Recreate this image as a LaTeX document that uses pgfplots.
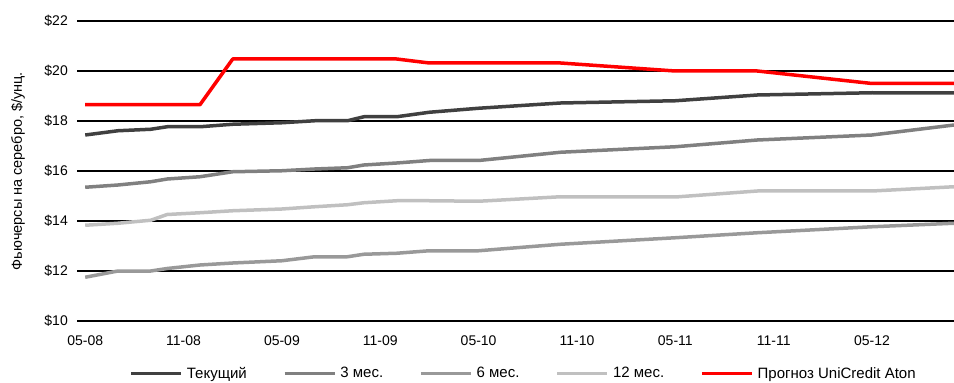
\documentclass[border=0pt]{standalone}
\usepackage{fontspec}
\setmainfont{Liberation Sans}
\usepackage{pgfplots}
\pgfplotsset{compat=1.18}

\definecolor{cur}{HTML}{404040}
\definecolor{m3}{HTML}{808080}
\definecolor{m6}{HTML}{999999}
\definecolor{m12}{HTML}{C0C0C0}
\definecolor{fc}{HTML}{FF0000}

% x = months since May 2008
\begin{document}
\begin{tikzpicture}[font=\fontsize{14bp}{17bp}\selectfont]
\path[use as bounding box] (-77bp,-62bp) rectangle (877bp,321bp);
\begin{axis}[
  at={(0,0)}, anchor=south west,
  scale only axis, width=877bp, height=300bp,
  xmin=-0.5, xmax=53, ymin=10, ymax=22,
  axis line style={draw=none},
  major tick length=0pt,
  xtick={0,6,12,18,24,30,36,42,48},
  xticklabels={05-08,11-08,05-09,11-09,05-10,11-10,05-11,11-11,05-12},
  ytick={10,12,14,16,18,20,22},
  yticklabels={\$10,\$12,\$14,\$16,\$18,\$20,\$22},
  ymajorgrids,
  grid style={black, line width=1.3bp},
  tick label style={font=\fontsize{14bp}{17bp}\selectfont},
  yticklabel style={anchor=east, inner sep=0pt, xshift=-9bp},
  xticklabel style={anchor=north, inner sep=0pt, yshift=-15bp},
  ylabel={Фьючерсы на серебро, \$/унц.},
  ylabel style={at={(axis description cs:-0.0673,0.5)}, anchor=center, font=\fontsize{14.5bp}{17bp}\selectfont},
  legend columns=5,
  legend image code/.code={\draw[#1] (0bp,0bp) -- (50bp,0bp);},
  legend style={at={(axis description cs:0.508,-0.175)}, anchor=center,
    draw=none, fill=none, inner sep=0pt,
    font=\fontsize{15bp}{18bp}\selectfont,
    nodes={inner xsep=0pt, inner ysep=0bp},
    /tikz/every odd column/.append style={column sep=4bp},
    /tikz/every even column/.append style={column sep=36bp}},
  every axis plot/.append style={line width=3.5bp, line join=round},
]
\addplot[cur] coordinates {
 (0,17.44) (2,17.61) (4,17.67) (5,17.77) (7,17.77) (9,17.87) (12,17.93)
 (14,18.01) (16,18.01) (17,18.17) (19,18.17) (21,18.35) (24,18.51)
 (29,18.72) (36,18.81) (41,19.04) (48,19.13) (53,19.12)};
\addlegendentry{Текущий}
\addplot[m3] coordinates {
 (0,15.35) (2,15.44) (4,15.57) (5,15.68) (7,15.77) (9,15.97) (12,16.01)
 (14,16.08) (16,16.13) (17,16.24) (19,16.32) (21,16.42) (24,16.42)
 (29,16.75) (36,16.97) (41,17.24) (48,17.44) (53,17.84)};
\addlegendentry{3 мес.}
\addplot[m6] coordinates {
 (0,11.75) (2,12.00) (4,12.00) (5,12.10) (7,12.24) (9,12.32) (12,12.41)
 (14,12.57) (16,12.57) (17,12.67) (19,12.71) (21,12.81) (24,12.81)
 (29,13.07) (36,13.33) (41,13.53) (48,13.77) (53,13.91)};
\addlegendentry{6 мес.}
\addplot[m12] coordinates {
 (0,13.83) (2,13.91) (4,14.03) (5,14.26) (7,14.33) (9,14.41) (12,14.48)
 (14,14.57) (16,14.65) (17,14.73) (19,14.81) (21,14.81) (24,14.79)
 (29,14.97) (36,14.96) (41,15.20) (48,15.20) (53,15.37)};
\addlegendentry{12 мес.}
\addplot[fc] coordinates {
 (0,18.65) (2,18.65) (4,18.65) (5,18.65) (7,18.65) (9,20.48) (12,20.48)
 (14,20.48) (16,20.48) (17,20.48) (19,20.48) (21,20.32) (24,20.32)
 (29,20.32) (36,20.00) (41,20.00) (48,19.50) (53,19.50)};
\addlegendentry{Прогноз UniCredit Aton}
\end{axis}
\end{tikzpicture}
\end{document}
